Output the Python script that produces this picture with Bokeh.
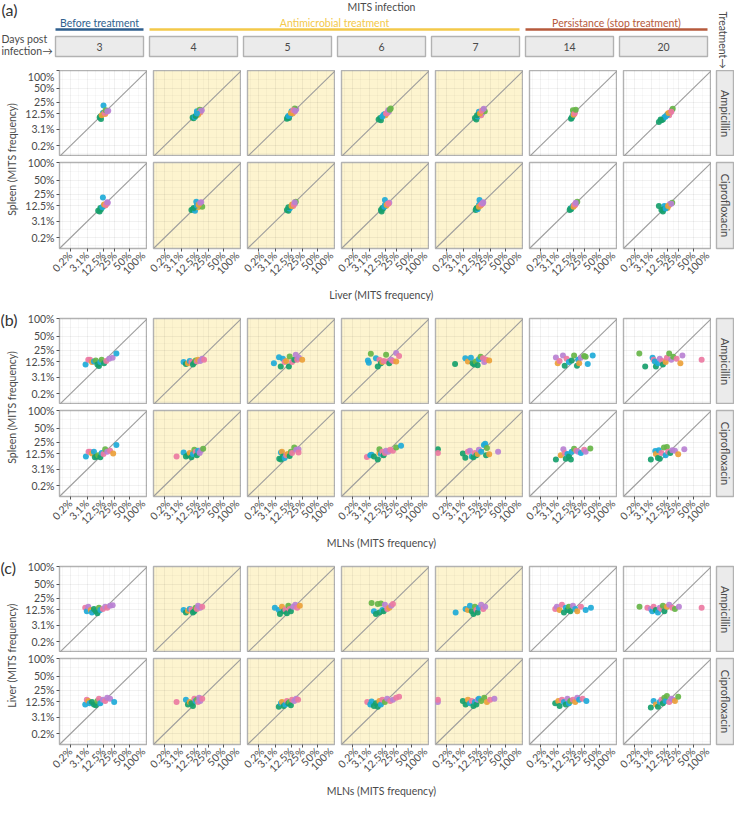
import math
from bokeh.plotting import figure
from bokeh.layouts import row, column
from bokeh.models import Range1d, FixedTicker, LinearAxis, Grid
from bokeh.core.properties import value
from bokeh.embed import file_html
from bokeh.resources import INLINE

# ---------------- data ----------------
days = ["3", "4", "5", "6", "7", "14", "20"]
treatments = ["Ampicillin", "Ciprofloxacin"]
treated_days = ["4", "5", "6", "7"]
phase_names = ["Before treatment", "Antimicrobial treatment", "Persistance (stop treatment)"]
phase_first = [0, 1, 5]
phase_last = [0, 4, 6]
phase_colors = ["#2f5f8e", "#f3c94a", "#b65a3c"]
tick_values = [0.195, 3.125, 12.5, 25, 50, 100]
tick_labels = ["0.2%", "3.1%", "12.5%", "25%", "50%", "100%"]
section_tags = ["(a)", "(b)", "(c)"]
x_titles = ["Liver (MITS frequency)", "MLNs (MITS frequency)", "MLNs (MITS frequency)"]
y_titles = ["Spleen (MITS frequency)", "Spleen (MITS frequency)", "Liver (MITS frequency)"]
clone_colors = ["#17a06c", "#1eaad8", "#ec7aa2", "#b881d2", "#eba13a", "#67b548"]

# (a) liver (x) vs spleen (y), % ; one sub-list per day
a_amp_x = [[9.5, 10.5, 10, 12.5, 12, 14, 15.5, 17, 13, 11, 13.5, 14.5, 16],
           [8.8, 9.5, 10.2, 12, 12.5, 13, 15, 16.5, 14.5, 11, 13.5, 15.5, 12],
           [9, 9.5, 10.5, 11.5, 12.5, 13.5, 15, 17, 15.5, 10, 12, 14, 16],
           [7.5, 8.5, 9, 11, 12, 12.5, 14, 15.5, 17.5, 10, 13, 15, 16.5],
           [9, 10, 11, 12, 12.5, 14, 15, 16, 17.5, 10.5, 13, 14.5, 16.5],
           [11, 11.5, 12, 12.5, 13, 13.5, 14, 12, 10.5, 12.5, 13.5, 14.5],
           [6.5, 8, 9, 10, 11, 12.5, 14, 15, 16.5, 17.5, 7.5, 12, 13.5, 16]]
a_amp_y = [[9.3, 8.3, 10, 21, 13, 12, 14, 15, 13.5, 11, 13, 15.5, 14.5],
           [9.4, 8.8, 9.6, 14.5, 12, 11.5, 13.5, 15.5, 16, 10.5, 13, 15, 12.5],
           [8.5, 9.5, 9, 11.5, 14.5, 12.5, 14, 16.5, 17.5, 10.5, 13, 15.5, 15],
           [8, 9, 7.5, 11.5, 12, 11, 13, 14, 17.5, 10, 12.5, 15.5, 16],
           [9, 8, 10, 14, 12, 11, 13, 16, 14.5, 11, 12.5, 15, 17],
           [9, 10, 11, 13, 12, 13.5, 14.5, 15.5, 8.5, 11.5, 12.5, 16],
           [6.5, 7.5, 8, 9.5, 10, 12, 11, 13.5, 15.5, 17, 8, 11, 13, 14]]
a_amp_c = [[0, 0, 0, 1, 1, 4, 2, 3, 5, 4, 2, 5, 3],
           [0, 0, 1, 1, 2, 4, 2, 3, 5, 0, 4, 3, 1],
           [0, 0, 0, 1, 1, 4, 2, 3, 5, 1, 4, 2, 3],
           [0, 0, 0, 1, 1, 4, 2, 3, 5, 1, 2, 3, 5],
           [0, 0, 1, 1, 4, 2, 3, 5, 5, 0, 4, 2, 3],
           [0, 0, 1, 1, 4, 2, 3, 5, 0, 4, 2, 5],
           [0, 0, 0, 1, 1, 4, 2, 3, 3, 5, 0, 1, 4, 2]]
a_cip_x = [[8.5, 9.5, 10.5, 12, 12.5, 14, 15.5, 16.5, 10, 11.5, 13, 14.5, 16],
           [8, 9, 10.5, 11.5, 12.5, 13, 14.5, 16, 17, 9.5, 12, 13.5, 15],
           [9, 10, 11, 12, 13, 14, 15.5, 16.5, 10, 12.5, 14.5, 15.5],
           [9, 9.5, 10.5, 12, 12, 13, 14.5, 16, 10, 11.5, 13.5, 15],
           [9.5, 10, 11, 12, 12.5, 13.5, 15, 16, 10.5, 12, 14, 15.5],
           [9.5, 10, 11, 12, 13, 14, 15, 16, 10.5, 12.5, 13.5, 14.5],
           [6.5, 8, 9, 10, 11.5, 12.5, 14, 15, 17, 9.5, 11, 13, 16]]
a_cip_y = [[8.5, 8, 9.5, 21, 12, 12.5, 14, 15, 10.5, 11, 13.5, 13, 15.5],
           [9, 9.5, 8.5, 16, 13, 11, 14, 15.5, 11.5, 10.5, 12.5, 13, 15],
           [9, 8.5, 10, 11.5, 13.5, 12, 14, 16, 11, 12, 13.5, 15.5],
           [9, 8, 10, 13, 18, 12, 14, 15, 10.5, 11.5, 13, 14],
           [9, 10, 9.5, 13, 18, 12.5, 14, 15.5, 10.5, 11.5, 13.5, 14.5],
           [9, 10, 10.5, 12, 12.5, 13, 14.5, 16, 9.5, 11.5, 13.5, 15],
           [12, 9, 8, 12, 11.5, 10.5, 13, 14, 15, 9.5, 10, 12, 14]]
a_cip_c = [[0, 0, 0, 1, 1, 4, 2, 3, 0, 1, 4, 2, 3],
           [0, 0, 1, 1, 2, 4, 2, 3, 5, 0, 1, 4, 3],
           [0, 0, 1, 1, 4, 2, 3, 5, 0, 4, 2, 3],
           [0, 0, 0, 1, 1, 4, 2, 3, 0, 1, 4, 2],
           [0, 0, 1, 1, 1, 4, 2, 3, 0, 4, 2, 3],
           [0, 0, 1, 1, 4, 2, 3, 5, 0, 4, 2, 3],
           [0, 0, 0, 1, 1, 4, 2, 3, 5, 0, 1, 4, 3]]

# (b) MLNs (x) vs spleen (y), %
b_amp_x = [[2.6, 3.5, 4.2, 5, 6, 7, 8, 9, 10, 11, 13, 15, 18, 22, 27],
           [4, 5, 6, 7, 8, 9, 10, 11, 12, 13, 15, 17, 19],
           [2.7, 4.6, 5.4, 6.5, 7.5, 8.5, 10.4, 11, 13, 15, 16.5, 18, 20, 24],
           [2.7, 3, 3.7, 6, 7, 8, 9, 10, 11, 13, 14, 16, 18, 20, 24, 28, 24],
           [1.1, 3.9, 5, 6.5, 7.5, 8.5, 9.5, 11, 12, 13.5, 15.7, 17, 19, 22.7],
           [2.7, 3.3, 4, 5.5, 6.4, 7.5, 9, 11, 13, 15.7, 17, 18, 20, 24, 26, 37, 29],
           [0.58, 1.5, 3.6, 4, 4.5, 5, 6, 7, 8.5, 9, 11, 12, 14, 16, 18, 22, 27, 30, 70]]
b_amp_y = [[10, 14, 14, 12, 12.5, 13.5, 10, 9, 12, 14, 11, 13, 15, 16, 21],
           [12, 10.5, 11, 13, 12, 10, 11.5, 13.5, 12.5, 14, 13, 15, 14],
           [11, 16.6, 8.6, 15, 12, 13, 8.6, 17.5, 12, 14, 19.4, 14, 16, 14],
           [13.4, 11.5, 20.5, 15.5, 8.6, 14, 11, 12, 13, 19.4, 12.5, 11, 14, 13, 21.6, 18, 12.5],
           [10.4, 15.5, 12.5, 16, 11, 10, 12.5, 9.5, 14.5, 17, 15.5, 12, 14, 13.3],
           [16.3, 11, 13, 18.5, 9.1, 15, 12, 13.5, 18.5, 9.1, 14, 11, 16, 18, 17, 18.5, 10.4],
           [21, 8.6, 16, 14, 12.5, 8.6, 11, 15, 13, 10, 12, 16, 21, 14, 17, 15, 11, 18.5, 14]]
b_amp_c = [[1, 2, 2, 4, 1, 5, 0, 0, 1, 5, 0, 2, 3, 3, 1],
           [1, 0, 4, 1, 2, 0, 0, 5, 2, 4, 3, 3, 2],
           [1, 1, 0, 1, 2, 4, 0, 5, 2, 0, 3, 2, 3, 4],
           [1, 1, 5, 1, 0, 2, 0, 4, 2, 5, 2, 0, 3, 2, 3, 2, 4],
           [0, 1, 4, 1, 0, 0, 5, 0, 1, 5, 2, 3, 2, 4],
           [3, 4, 2, 3, 0, 2, 1, 0, 5, 0, 1, 4, 3, 5, 5, 1, 1],
           [5, 0, 1, 2, 1, 0, 1, 3, 2, 0, 4, 2, 5, 3, 5, 2, 4, 3, 2]]
b_cip_x = [[2.7, 3.6, 4.2, 5, 6, 6.5, 7.5, 8.5, 10, 11, 12.5, 14, 16, 19, 22.7, 27],
           [1.8, 4, 5, 6, 7, 8, 9, 10, 11, 12, 13, 14.5, 16, 18],
           [4.7, 5.5, 5.5, 6, 6.5, 7.5, 8.5, 9.5, 11, 12, 13, 15, 17, 19.5, 19.5],
           [2.4, 3.5, 4, 5, 7, 8, 8, 9, 10, 11, 12, 13, 15, 17, 20, 24, 31],
           [0.002, 0.002, 3, 3.9, 5, 6, 7, 8, 9, 10, 11, 12, 14, 16.6, 18, 19, 20, 22.7, 36],
           [2.7, 4.5, 5.7, 6.5, 7, 8, 9, 10.4, 11, 13, 15, 17, 20, 24, 26, 33],
           [3, 4.7, 5, 6, 6.5, 7, 8, 9.7, 11, 12, 13, 15, 17, 20, 24, 33]]
b_cip_y = [[10, 14, 14, 12.5, 14, 9.5, 10, 11, 9.5, 13, 12, 16.6, 14, 15, 12.5, 21.6],
           [10, 13.5, 10, 11, 13, 9.5, 12, 16, 14, 11, 15, 13, 15.5, 17],
           [8.5, 13.3, 8, 14, 10, 9, 11, 12, 10.5, 14, 13, 18.5, 16, 16.6, 13.3],
           [9.7, 11, 11.5, 10, 8, 13, 16.6, 12, 14, 11, 13, 15, 14, 16, 15, 18.5, 20.5],
           [16.6, 13, 12.5, 9.1, 14, 15, 10, 9.5, 13, 11, 12, 16, 14, 21.6, 23, 11, 18, 11.8, 14],
           [8, 11, 16.6, 13, 8.5, 12, 10, 8, 14, 17, 15, 14, 13, 16, 14, 17.5],
           [8, 14.9, 12, 9, 15.5, 8.5, 13, 18.5, 11, 19, 14, 13, 15.5, 15, 11.8, 16.6]]
b_cip_c = [[1, 2, 2, 4, 1, 0, 0, 5, 0, 1, 2, 5, 3, 2, 4, 1],
           [2, 1, 0, 0, 4, 0, 1, 5, 2, 0, 1, 3, 3, 5],
           [0, 1, 0, 4, 0, 1, 2, 4, 0, 5, 2, 5, 3, 3, 2],
           [2, 1, 1, 0, 0, 4, 5, 1, 2, 0, 2, 3, 3, 2, 2, 5, 1],
           [0, 2, 0, 0, 2, 3, 1, 0, 2, 0, 4, 3, 1, 1, 1, 0, 5, 4, 3],
           [0, 4, 3, 2, 0, 1, 0, 0, 1, 5, 2, 3, 1, 2, 3, 5],
           [0, 1, 4, 0, 1, 0, 2, 5, 1, 5, 2, 0, 3, 3, 4, 3]]

# (c) MLNs (x) vs liver (y), %
c_amp_x = [[2.5, 3, 3.5, 4.5, 5, 6, 7, 8, 9, 10, 12, 14, 16, 19, 22],
           [4, 5, 6, 7, 8, 9, 10, 11, 12, 13, 15, 17],
           [3, 4.5, 5, 6, 7, 8, 9, 10, 11, 12, 14, 16, 18, 21],
           [4, 5, 6, 7, 8, 9, 10, 11, 12, 14, 16, 18, 20],
           [1.2, 4, 5, 6, 7, 8, 9, 10, 11, 12, 14, 16, 18],
           [2.5, 3, 4, 5, 6, 7, 8, 9, 10, 12, 14, 16, 20, 26, 34],
           [0.6, 2, 3, 3.5, 4, 5, 6, 7, 8, 9, 10, 12, 14, 17, 20, 25, 70]]
c_amp_y = [[14, 11, 15, 12, 10, 13, 11, 9.5, 14, 12, 13, 15, 14, 16, 16.5],
           [12, 10, 11.5, 13, 12.5, 10, 11, 14, 13, 16, 14, 15],
           [14, 12, 9, 15, 11, 12.5, 9.5, 16, 13, 11, 15, 17, 14, 16],
           [19, 11, 9, 18, 10, 18.5, 12, 11, 17, 13, 14, 16, 18],
           [10, 13, 12, 16, 11, 9, 15, 12, 10, 14, 17, 13, 15],
           [13, 15, 12, 17, 10, 14, 12, 15, 11, 16, 13, 11, 15, 12, 14],
           [15, 14, 13, 11, 15, 12, 10, 14, 13, 16, 11, 15, 17, 14, 13, 15, 14]]
c_amp_c = [[2, 1, 3, 4, 1, 0, 0, 0, 5, 1, 2, 3, 2, 3, 3],
           [1, 0, 4, 1, 2, 0, 0, 5, 2, 3, 3, 2],
           [1, 1, 0, 4, 0, 2, 0, 5, 2, 0, 3, 3, 2, 4],
           [5, 1, 0, 5, 0, 5, 1, 0, 3, 2, 4, 3, 2],
           [1, 1, 4, 1, 0, 0, 5, 2, 0, 1, 3, 2, 3],
           [2, 3, 4, 2, 0, 1, 0, 5, 0, 3, 1, 4, 2, 1, 1],
           [5, 2, 3, 1, 2, 0, 1, 3, 2, 5, 0, 4, 3, 2, 5, 3, 2]]
c_cip_x = [[2.5, 3, 3.5, 4, 5, 6, 7, 8, 9, 10, 12, 14, 16, 19, 24],
           [1.8, 5, 6, 7, 8, 9, 10, 11, 12, 13, 14, 15, 17],
           [4.5, 5.5, 6, 7, 8, 9, 10, 11, 12, 13, 15, 17, 19],
           [2.5, 3.5, 4, 5, 6, 7, 8, 9, 10, 12, 14, 17, 20, 24, 28],
           [0.002, 0.002, 3, 4, 5, 6, 7, 8, 9, 10, 11, 12, 14, 17, 20, 24, 30],
           [2.5, 3.5, 4, 5, 6, 7, 8, 9, 10, 12, 14, 16, 18, 22, 27],
           [3, 4, 5, 6, 7, 8, 9, 10, 11, 12, 14, 16, 18, 20, 24]]
c_cip_y = [[10, 14, 13, 11, 12, 10, 9.5, 13, 15, 11, 14, 13, 16, 15, 12],
           [12, 14, 10, 12, 11, 9, 15, 13, 14, 12, 16, 13, 15],
           [8.5, 11, 12, 9, 10, 13, 11, 12, 9.5, 14, 13, 15, 14],
           [12, 10, 12.5, 9, 11, 8.5, 13, 10, 14, 12, 15, 13, 14, 16, 17],
           [12, 14, 13, 10, 14, 11, 13, 9, 12, 10, 14, 15, 13, 16, 12, 14, 15],
           [11, 13, 9, 14, 12, 10, 15, 11, 13, 14, 12, 16, 14, 15, 13],
           [8, 13, 10, 8.5, 12, 14, 11, 16, 13, 18, 12, 15, 14, 13, 17]]
c_cip_c = [[1, 2, 4, 1, 0, 0, 0, 5, 2, 1, 3, 2, 3, 3, 1],
           [2, 1, 0, 4, 0, 0, 2, 1, 5, 2, 3, 3, 2],
           [0, 1, 4, 0, 1, 2, 0, 5, 0, 2, 3, 3, 2],
           [2, 1, 1, 0, 0, 0, 4, 1, 2, 5, 3, 2, 3, 2, 2],
           [3, 2, 0, 0, 4, 1, 2, 0, 1, 0, 3, 1, 5, 5, 4, 2, 3],
           [0, 4, 0, 2, 1, 0, 3, 1, 5, 2, 4, 3, 1, 2, 1],
           [0, 1, 4, 0, 1, 2, 0, 5, 1, 5, 2, 3, 3, 4, 5]]

panel_data = [
    [(a_amp_x, a_amp_y, a_amp_c), (a_cip_x, a_cip_y, a_cip_c)],
    [(b_amp_x, b_amp_y, b_amp_c), (b_cip_x, b_cip_y, b_cip_c)],
    [(c_amp_x, c_amp_y, c_amp_c), (c_cip_x, c_cip_y, c_cip_c)],
]

# ---------------- layout constants ----------------
FONT = "Lato"
TXT = "#4a4a4a"
PW, PH = 88, 86          # panel frame size
GAP = 6                   # gap between panels
LT = 22                   # y-title column width
YAX = 33                  # y-axis border
SG, SW = 5, 18            # right strip gap/width
XAX = 38                  # x-axis border
XT = 16                   # x-title height
SEC_TOP = [0, 16, 16]
HEADER_H = 70
YELLOW = "#fdf4cf"
BORDER = "#b2b2b2"
W_TOTAL = LT + YAX + 7 * PW + 6 * GAP + SG + SW


def tf(v):
    return (v / 100.0) ** (1.0 / 3.0)


tpos = [tf(v) for v in tick_values]
mpos = [tpos[0] - (tpos[1] - tpos[0]) / 2] + [(a + b) / 2 for a, b in zip(tpos[:-1], tpos[1:])]
ovr = {t: l for t, l in zip(tpos, tick_labels)}


def col_left(i):
    return LT + YAX + i * (PW + GAP)


def base_fig(**kw):
    return figure(toolbar_location=None, output_backend="svg",
                  x_axis_type=None, y_axis_type=None, **kw)


def style_axis(ax):
    ax.axis_line_color = None
    ax.major_tick_line_color = "#555555"
    ax.major_tick_out = 3
    ax.major_tick_in = 0
    ax.minor_tick_line_color = None
    ax.major_label_text_font = FONT
    ax.major_label_text_font_size = "10.5px"
    ax.major_label_text_color = TXT
    ax.major_label_standoff = 2


def make_panel(sec, ti, di):
    xs, ys, cs = panel_data[sec][ti]
    first_col = di == 0
    bottom_row = ti == 1
    p = base_fig(frame_width=PW, frame_height=PH,
                 x_range=Range1d(0, 1), y_range=Range1d(0, 1),
                 min_border_left=YAX if first_col else GAP, min_border_right=0,
                 min_border_top=SEC_TOP[sec] if ti == 0 else GAP,
                 min_border_bottom=XAX if bottom_row else 0,
                 background_fill_color=YELLOW if days[di] in treated_days else "white",
                 border_fill_color="white",
                 outline_line_color=BORDER, outline_line_width=1.4)
    tk = FixedTicker(ticks=tpos, minor_ticks=mpos)
    for dim in (0, 1):
        p.add_layout(Grid(dimension=dim, ticker=tk,
                          grid_line_color="black", grid_line_alpha=0.07, grid_line_width=0.8,
                          minor_grid_line_color="black", minor_grid_line_alpha=0.035,
                          minor_grid_line_width=0.8))
    p.line([0, 1], [0, 1], line_color="#9c9c9c", line_width=1.1)
    p.scatter(x=[tf(v) for v in xs[di]], y=[tf(v) for v in ys[di]], size=6,
              fill_color=[clone_colors[c] for c in cs[di]], line_color=None, fill_alpha=0.92)
    if first_col:
        ax = LinearAxis(ticker=FixedTicker(ticks=tpos), major_label_overrides=ovr)
        style_axis(ax)
        p.add_layout(ax, "left")
    if bottom_row:
        ax = LinearAxis(ticker=FixedTicker(ticks=tpos), major_label_overrides=ovr,
                        major_label_orientation=math.pi / 4)
        style_axis(ax)
        p.add_layout(ax, "below")
    return p


def make_strip(label, top_b, bot_b):
    s = base_fig(frame_width=SW, frame_height=PH, x_range=Range1d(0, 1), y_range=Range1d(0, 1),
                 min_border_left=SG, min_border_right=0, min_border_top=top_b,
                 min_border_bottom=bot_b, background_fill_color="#ebebeb",
                 outline_line_color=BORDER, outline_line_width=1.4)
    s.text(x=[0.5], y=[0.5], text=[label], angle=-math.pi / 2, text_align="center",
           text_baseline="middle", text_font=value(FONT), text_font_size=value("11px"),
           text_color=TXT)
    return s


# ---------------- header ----------------
hdr = base_fig(width=W_TOTAL, height=HEADER_H, min_border=0,
               x_range=Range1d(0, W_TOTAL), y_range=Range1d(HEADER_H, 0),
               outline_line_color=None)
hdr.text(x=[1], y=[9], text=[section_tags[0]], text_align="left", text_baseline="middle",
         text_font=value(FONT), text_font_size=value("16px"), text_color="#333333")
mid = col_left(0) + (7 * PW + 6 * GAP) / 2
hdr.text(x=[mid], y=[6], text=["MITS infection"], text_align="center", text_baseline="middle",
         text_font=value(FONT), text_font_size=value("10.5px"), text_color=TXT)
for name, f, l, c in zip(phase_names, phase_first, phase_last, phase_colors):
    x0, x1 = col_left(f), col_left(l) + PW
    hdr.line([x0, x1], [29, 29], line_color=c, line_width=2.6)
    hdr.text(x=[(x0 + x1) / 2], y=[22], text=[name], text_align="center",
             text_baseline="middle", text_font=value(FONT), text_font_size=value("10.5px"),
             text_color=c)
hdr.quad(left=[col_left(i) for i in range(7)], right=[col_left(i) + PW for i in range(7)],
         top=[36] * 7, bottom=[56] * 7, fill_color="#ebebeb", line_color=BORDER, line_width=1.4)
hdr.text(x=[col_left(i) + PW / 2 for i in range(7)], y=[46] * 7, text=days, text_align="center",
         text_baseline="middle", text_font=value(FONT), text_font_size=value("10.5px"),
         text_color=TXT)
hdr.text(x=[1, 1], y=[38, 50], text=["Days post", "infection\u2192"], text_align="left",
         text_baseline="middle", text_font=value(FONT), text_font_size=value("10.5px"),
         text_color=TXT)
hdr.text(x=[W_TOTAL - SW / 2 + 1], y=[11], text=["Treatment\u2192"], angle=-math.pi / 2,
         text_align="left", text_baseline="middle", text_font=value(FONT),
         text_font_size=value("10.5px"), text_color=TXT)

# ---------------- sections ----------------
blocks = [hdr]
for sec in range(3):
    top_b = SEC_TOP[sec]
    yt = base_fig(frame_width=LT, frame_height=top_b + 2 * PH + GAP, min_border=0,
                  x_range=Range1d(0, LT), y_range=Range1d(2 * PH + GAP, -top_b),
                  outline_line_color=None)
    yt.text(x=[LT / 2], y=[PH + GAP / 2], text=[y_titles[sec]], angle=math.pi / 2,
            text_align="center", text_baseline="middle", text_font=value(FONT),
            text_font_size=value("10.5px"), text_color=TXT)
    if sec > 0:
        yt.text(x=[0], y=[1], text=[section_tags[sec]], text_align="left",
                text_baseline="middle", text_font=value(FONT), text_font_size=value("16px"),
                text_color="#333333")
    r1 = [make_panel(sec, 0, d) for d in range(7)] + [make_strip(treatments[0], top_b, 0)]
    r2 = [make_panel(sec, 1, d) for d in range(7)] + [make_strip(treatments[1], GAP, XAX)]
    xt = base_fig(frame_width=W_TOTAL, frame_height=XT, min_border=0,
                  x_range=Range1d(0, W_TOTAL), y_range=Range1d(XT, 0), outline_line_color=None)
    xt.text(x=[mid], y=[XT / 2], text=[x_titles[sec]], text_align="center",
            text_baseline="middle", text_font=value(FONT), text_font_size=value("10.5px"),
            text_color=TXT)
    blocks.append(column(row(yt, column(row(*r1), row(*r2))), xt))

layout = column(*blocks)
open("out.html", "w").write(file_html(layout, INLINE))
